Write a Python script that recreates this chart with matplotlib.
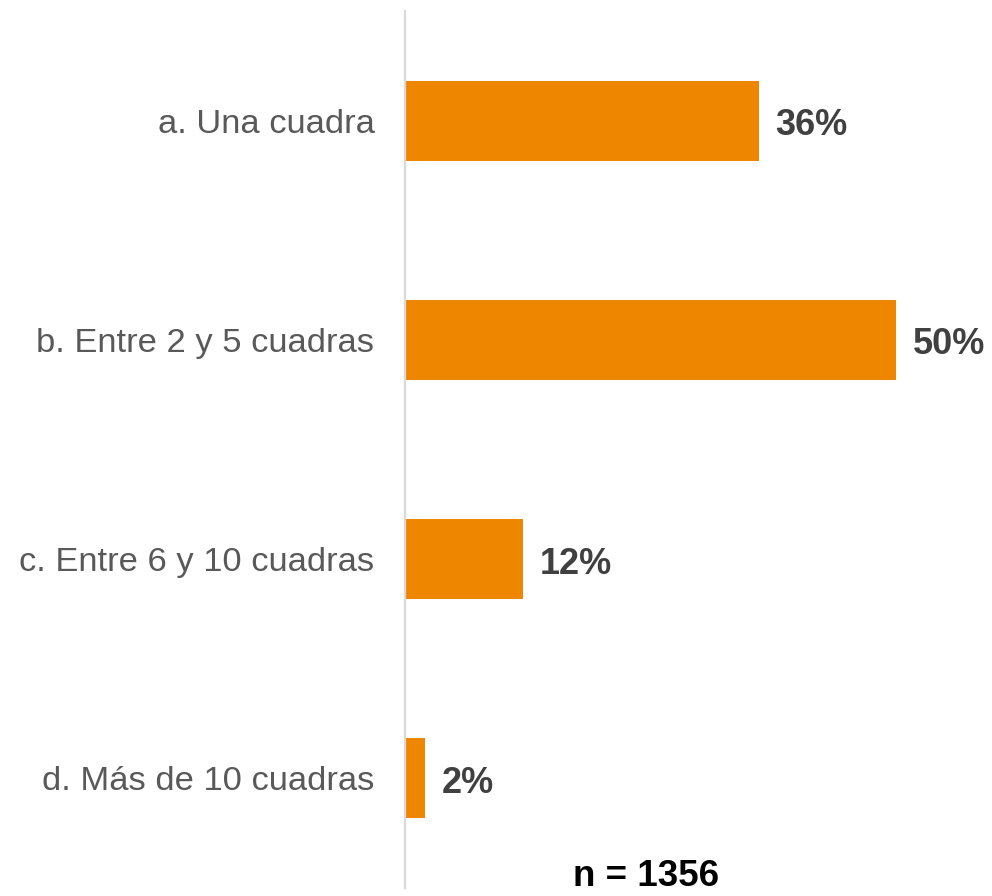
import matplotlib
matplotlib.use("Agg")
import matplotlib.pyplot as plt
from matplotlib.transforms import offset_copy

categories = ["a. Una cuadra", "b. Entre 2 y 5 cuadras", "c. Entre 6 y 10 cuadras", "d. Más de 10 cuadras"]
values = [36, 50, 12, 2]
value_labels = ["36%", "50%", "12%", "2%"]
note = "n = 1356"

plt.rcParams['font.family'] = ['Liberation Sans', 'DejaVu Sans']

fig = plt.figure(figsize=(9.92, 8.96), dpi=100)
ax = fig.add_axes([405/992, 1 - 888/896, 491/992, 877/896])

ypos = list(range(len(categories)))
ax.barh(ypos, values, height=0.364, color="#EE8600", zorder=2)
ax.set_xlim(0, 50)
ax.set_ylim(3.5, -0.5)

ax.set_yticks(ypos)
ax.set_yticklabels(categories, fontsize=24.8, color="#595959")
ax.tick_params(axis='y', length=0, pad=22)
ax.set_xticks([])
for s in ["top", "right", "bottom"]:
    ax.spines[s].set_visible(False)
ax.spines["left"].set_color("#D9D9D9")
ax.spines["left"].set_linewidth(1.6)

for y, v, lab in zip(ypos, values, value_labels):
    tr = offset_copy(ax.transData, fig=fig, x=17, y=-5, units='dots')
    ax.text(v, y, lab, transform=tr, ha='left', va='center', fontsize=26,
            fontweight='bold', color="#404040", clip_on=False)

fig.text(646/992, 1 - 876/896, note, ha='center', va='center', fontsize=26.5,
         fontweight='bold', color="#000000")

fig.savefig("out.png", dpi=100)
